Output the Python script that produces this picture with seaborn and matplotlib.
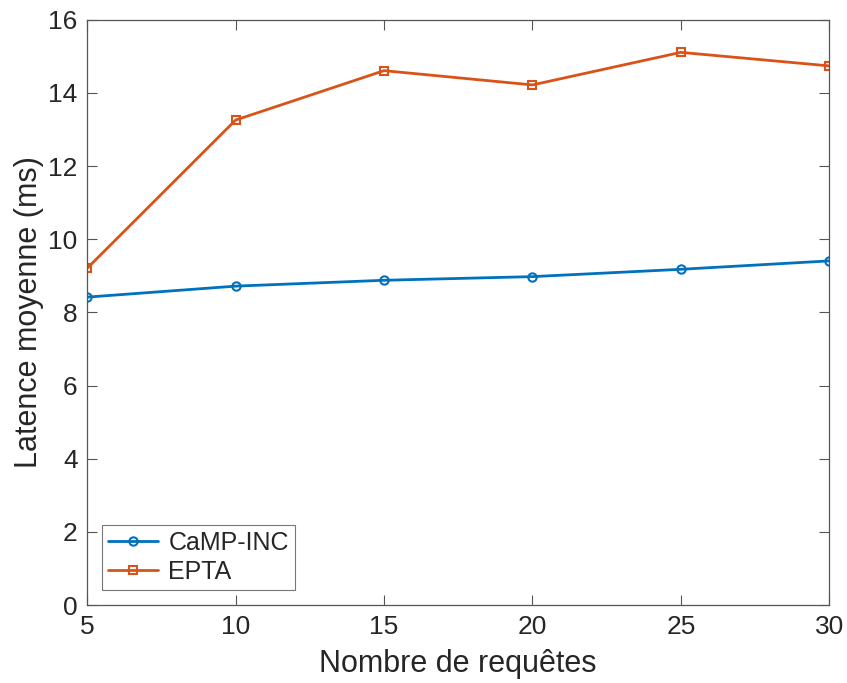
import numpy as np
import pandas as pd
import matplotlib
matplotlib.use("Agg")
import matplotlib.pyplot as plt
import seaborn as sns

requetes = [5, 10, 15, 20, 25, 30]
camp_inc = [8.42, 8.72, 8.88, 8.98, 9.18, 9.41]
epta = [9.21, 13.26, 14.61, 14.22, 15.11, 14.74]

sns.set_theme(style="ticks")
plt.rcParams['font.family'] = ['Liberation Sans', 'DejaVu Sans']

fig = plt.figure(figsize=(8.47, 6.83), dpi=100)
ax = fig.add_axes([0.103, 0.114, 0.876, 0.857])

series = [("CaMP-INC", camp_inc, "#0072BD", "o"), ("EPTA", epta, "#D95319", "s")]
for name, vals, col, mk in series:
    sns.lineplot(x=requetes, y=vals, color=col, marker=mk, label=name,
                 linewidth=2, markerfacecolor="none",
                 markeredgecolor=col, ax=ax)
for ln in ax.lines:
    ln.set_markersize(9)
    ln.set_markeredgewidth(1.8)

ax.set_xlim(5, 30)
ax.set_ylim(0, 16)
ax.set_xticks([5, 10, 15, 20, 25, 30])
ax.set_yticks(range(0, 17, 2))
ax.set_xlabel("Nombre de requêtes", fontsize=22, color="#262626", labelpad=7)
ax.set_ylabel("Latence moyenne (ms)", fontsize=22, color="#262626", labelpad=3)
ax.tick_params(direction="in", top=True, right=True, labelsize=19,
               labelcolor="#262626", color="#555555", length=7, width=0.8, pad=7)
for s in ax.spines.values():
    s.set_visible(True)
    s.set_color("#555555")
    s.set_linewidth(0.9)

handles, labels = ax.get_legend_handles_labels()
for h in handles:
    h.set_markersize(6)
    h.set_markeredgewidth(1.5)
leg = ax.legend(handles, labels, loc="lower left", fontsize=18, frameon=True,
                fancybox=False, edgecolor="#555555", handlelength=2.0,
                handletextpad=0.4, borderpad=0.25, borderaxespad=0.6,
                labelspacing=0.2)
leg.get_frame().set_linewidth(0.8)

fig.savefig("out.png", dpi=100)
